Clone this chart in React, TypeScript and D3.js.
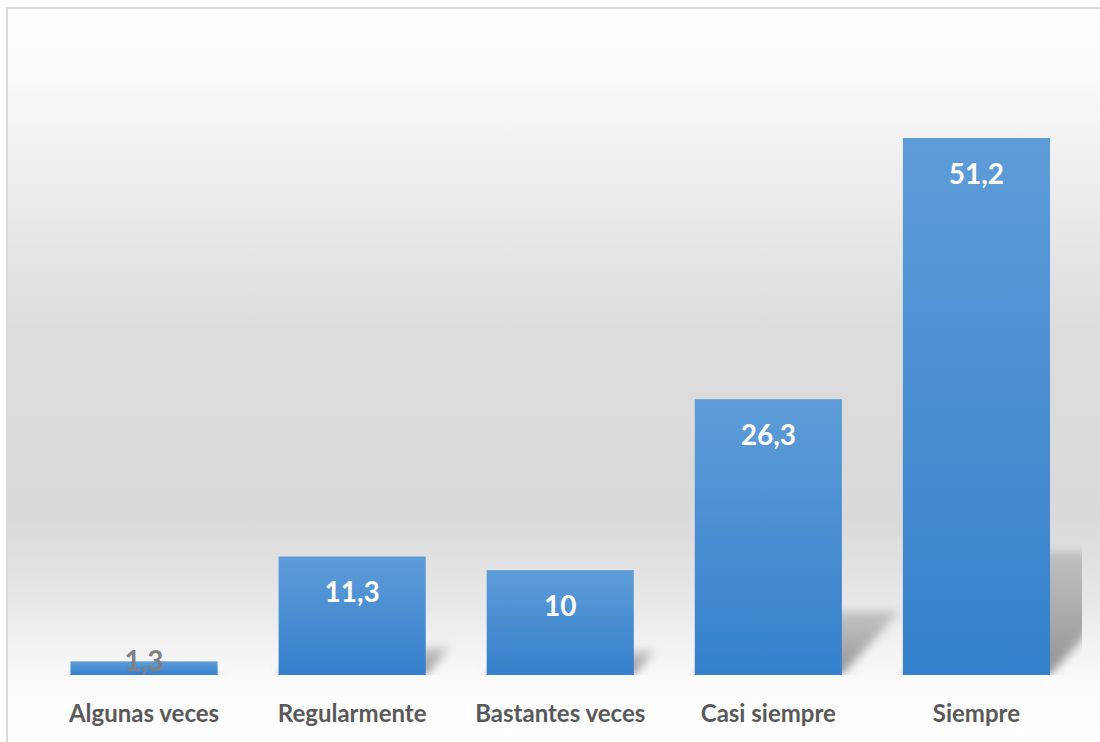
import React from "react";
import * as d3 from "d3";

const categories = ["Algunas veces", "Regularmente", "Bastantes veces", "Casi siempre", "Siempre"];
const values = [1.3, 11.3, 10, 26.3, 51.2];
const valueLabels = ["1,3", "11,3", "10", "26,3", "51,2"];

const W = 1100;
const H = 742;
const plot = { left: 40, right: 1080.5, top: 138, bottom: 675 };

export default function App() {
  const x = d3
    .scaleBand<string>()
    .domain(categories)
    .range([plot.left, plot.right])
    .paddingInner(0.293)
    .paddingOuter(0.1465);
  const y = d3.scaleLinear().domain([0, 51.2]).range([plot.bottom, plot.top]);
  const bw = x.bandwidth();

  return (
    <svg
      width={W}
      height={H}
      style={{ position: "absolute", left: 0, top: 0, display: "block" }}
      fontFamily="Lato, 'Open Sans', sans-serif"
    >
      <defs>
        <linearGradient id="bg" gradientUnits="userSpaceOnUse" x1="0" y1="8" x2="0" y2="742">
          <stop offset="0" stopColor="#ffffff" />
          <stop offset="0.1" stopColor="#f9f9f9" />
          <stop offset="0.25" stopColor="#ececec" />
          <stop offset="0.44" stopColor="#dcdcdc" />
          <stop offset="0.7" stopColor="#dadada" />
          <stop offset="0.82" stopColor="#e9e9e9" />
          <stop offset="0.92" stopColor="#fbfbfb" />
          <stop offset="1" stopColor="#ffffff" />
        </linearGradient>
        <linearGradient id="bar" x1="0" y1="0" x2="0" y2="1">
          <stop offset="0" stopColor="#5e9cd8" />
          <stop offset="1" stopColor="#3580cc" />
        </linearGradient>
        <linearGradient id="shadowGrad" x1="0" y1="0" x2="0" y2="1">
          <stop offset="0" stopColor="#a8a8a8" stopOpacity="0.6" />
          <stop offset="1" stopColor="#8a8a8a" stopOpacity="0.95" />
        </linearGradient>
        <filter id="blur" x="-50%" y="-50%" width="200%" height="200%">
          <feGaussianBlur stdDeviation="5" />
        </filter>
        <clipPath id="plotClip">
          <rect x={plot.left} y={0} width={1082 - plot.left} height={plot.bottom} />
        </clipPath>
      </defs>

      <rect x={7} y={8} width={W} height={H} fill="url(#bg)" stroke="#d9d9d9" strokeWidth={2} />

      <g clipPath="url(#plotClip)">
        {categories.map((c, i) => {
          const x0 = x(c)!;
          const x1 = x0 + bw;
          const h = plot.bottom - y(values[i]);
          const sh = h * 0.23;
          const dx = sh * 0.9;
          const pts = [
            [x0, plot.bottom],
            [x1, plot.bottom],
            [x1 + dx, plot.bottom - sh],
            [x0 + dx, plot.bottom - sh],
          ];
          return (
            <polygon
              key={"s" + c}
              points={pts.map((p) => p.join(",")).join(" ")}
              fill="url(#shadowGrad)"
              filter="url(#blur)"
            />
          );
        })}
      </g>

      {categories.map((c, i) => (
        <rect
          key={"b" + c}
          x={x(c)!}
          y={y(values[i])}
          width={bw}
          height={plot.bottom - y(values[i])}
          fill="url(#bar)"
        />
      ))}

      {categories.map((c, i) => {
        const top = y(values[i]);
        const small = plot.bottom - top < 40;
        return (
          <text
            key={"v" + c}
            x={x(c)! + bw / 2}
            y={small ? plot.bottom - 4 : top + 46}
            textAnchor="middle"
            fontSize={28}
            fontWeight="bold"
            fill={small ? "#808080" : "#ffffff"}
          >
            {valueLabels[i]}
          </text>
        );
      })}

      {categories.map((c) => (
        <text
          key={"c" + c}
          x={x(c)! + bw / 2}
          y={722}
          textAnchor="middle"
          fontSize={24}
          fontWeight="bold"
          fill="#595959"
        >
          {c}
        </text>
      ))}
    </svg>
  );
}
